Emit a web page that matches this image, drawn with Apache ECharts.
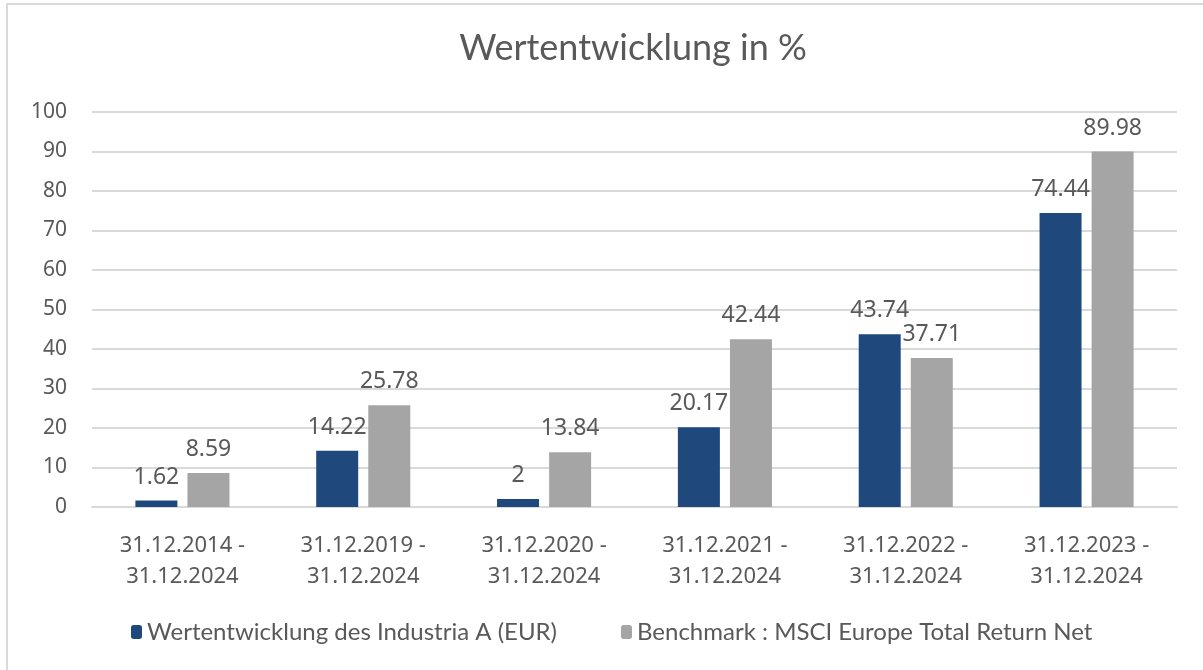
<!DOCTYPE html>
<html><head><meta charset="utf-8">
<script src="https://cdn.jsdelivr.net/npm/echarts@6/dist/echarts.min.js"></script>
<style>
html,body{margin:0;padding:0;background:#fff;}
#frame{position:absolute;left:6px;top:3px;width:1200px;height:670px;border-top:2px solid #d9d9d9;border-left:2px solid #d9d9d9;}
#c{position:absolute;left:0;top:0;width:1203px;height:670px;}
</style></head>
<body>
<div id="frame"></div>
<div id="c"></div>
<script>
const categories = [
  "31.12.2014 -\n31.12.2024",
  "31.12.2019 -\n31.12.2024",
  "31.12.2020 -\n31.12.2024",
  "31.12.2021 -\n31.12.2024",
  "31.12.2022 -\n31.12.2024",
  "31.12.2023 -\n31.12.2024"
];
const fundName = "Wertentwicklung des Industria A (EUR)";
const benchName = "Benchmark : MSCI Europe Total Return Net";
const fundValues = [1.62, 14.22, 2, 20.17, 43.74, 74.44];
const benchValues = [8.59, 25.78, 13.84, 42.44, 37.71, 89.98];

const txt = '#595959';
const font = '"Noto Sans", sans-serif';
const chart = echarts.init(document.getElementById('c'), null, {renderer:'canvas'});
chart.setOption({
  backgroundColor: 'transparent',
  animation: false,
  title: {
    text: 'Wertentwicklung in %',
    left: 628, top: 25, textAlign: 'center',
    textStyle: {color: txt, fontSize: 36, fontWeight: 'normal', fontFamily: 'Lato, sans-serif'}
  },
  legend: {
    bottom: 21, left: 126, itemWidth: 11, itemHeight: 14, itemGap: 64,
    textStyle: {color: txt, fontSize: 24, fontFamily: 'Lato, sans-serif', padding:[0,0,0,0]},
    data: [fundName, benchName]
  },
  grid: {left: 92, right: 26, top: 112, bottom: 163},
  xAxis: {
    type: 'category', data: categories,
    axisLine: {lineStyle: {color: '#d9d9d9', width: 2}},
    axisTick: {show: false},
    axisLabel: {color: txt, fontSize: 22, fontFamily: font, lineHeight: 31, margin: 23, interval: 0}
  },
  yAxis: {
    type: 'value', min: 0, max: 100, interval: 10,
    axisLine: {show: false}, axisTick: {show: false},
    splitLine: {lineStyle: {color: '#d9d9d9', width: 2}},
    axisLabel: {color: txt, fontSize: 21, fontFamily: font, margin: 25}
  },
  series: [
    {name: fundName, type: 'bar', data: fundValues, barWidth: 42, barGap: '24%',
     itemStyle: {color: '#1f497d'},
     label: {show: true, position: 'top', distance: 12, color: txt, fontSize: 23, fontFamily: font}},
    {name: benchName, type: 'bar', data: benchValues, barWidth: 42,
     itemStyle: {color: '#a5a5a5'},
     label: {show: true, position: 'top', distance: 12, color: txt, fontSize: 23, fontFamily: font}}
  ]
});
</script>
</body></html>
